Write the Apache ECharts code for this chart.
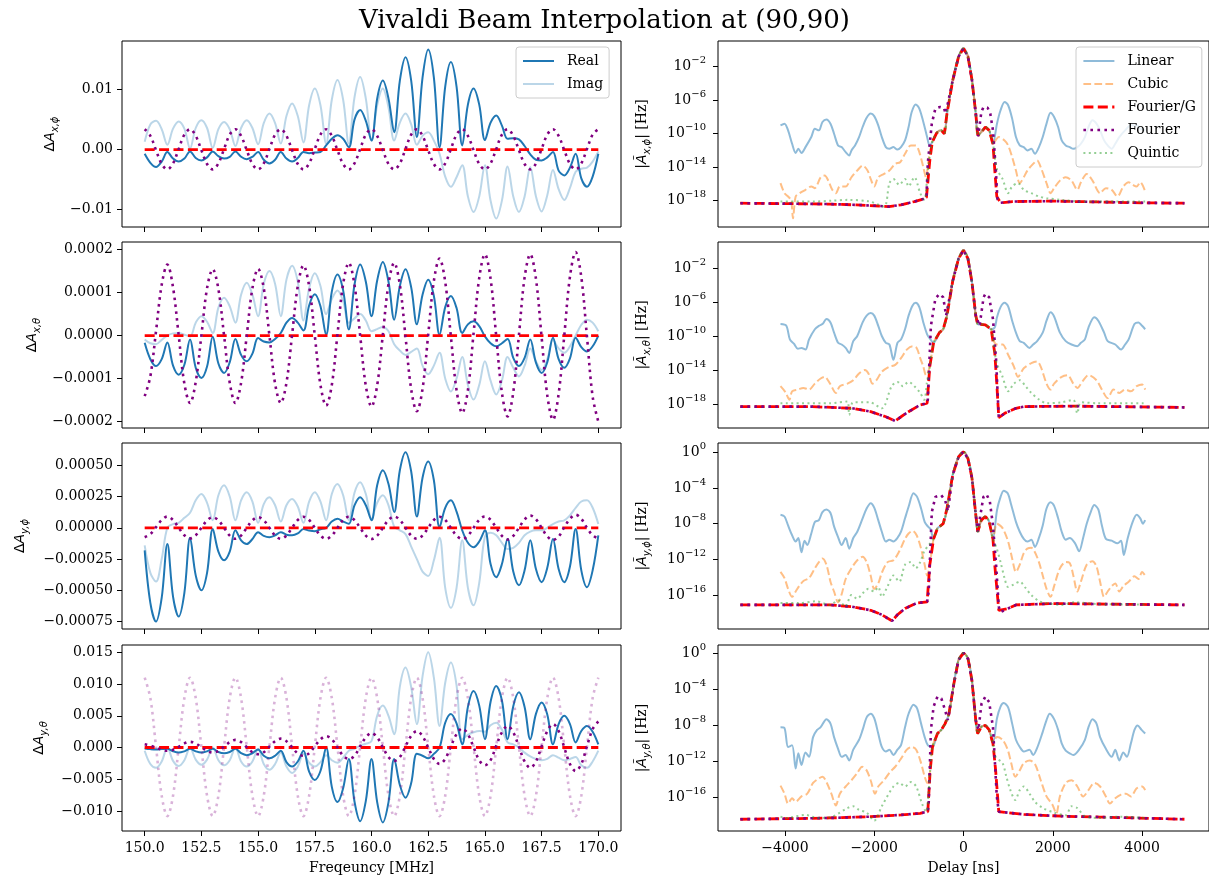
<!DOCTYPE html>
<html>
<head>
<meta charset="utf-8">
<title>Vivaldi Beam Interpolation at (90,90)</title>
<script src="https://cdn.jsdelivr.net/npm/echarts@6/dist/echarts.min.js"></script>
<style>
  html, body { margin: 0; padding: 0; background: #fff; }
  #chart { width: 1209px; height: 882px; }
</style>
</head>
<body>
<div id="chart"></div>
<script>
const SERIF = 'DejaVu Serif';
const MATH = 'DejaVu Sans';

// ---- left column: residuals vs frequency ----
const freqMHz = [
  150, 150.25, 150.5, 150.75, 151, 151.25, 151.5, 151.75, 152, 152.25, 152.5, 152.75,
  153, 153.25, 153.5, 153.75, 154, 154.25, 154.5, 154.75, 155, 155.25, 155.5, 155.75,
  156, 156.25, 156.5, 156.75, 157, 157.25, 157.5, 157.75, 158, 158.25, 158.5, 158.75,
  159, 159.25, 159.5, 159.75, 160, 160.25, 160.5, 160.75, 161, 161.25, 161.5, 161.75,
  162, 162.25, 162.5, 162.75, 163, 163.25, 163.5, 163.75, 164, 164.25, 164.5, 164.75,
  165, 165.25, 165.5, 165.75, 166, 166.25, 166.5, 166.75, 167, 167.25, 167.5, 167.75,
  168, 168.25, 168.5, 168.75, 169, 169.25, 169.5, 169.75, 170
];
const freqTicks = [150, 152.5, 155, 157.5, 160, 162.5, 165, 167.5, 170];

// dA_x,phi  (units of 1e-3)
const realXphi = [-0.7,
  -2.2, -2.9, -2.0, -0.4,  -1.5, -2.0, -1.5, -0.3,  -1.4, -1.8, -1.3, -0.3,  -1.1, -1.5, -1.2, -0.3,
  -1.2, -1.6, -1.2, -0.4,  -1.7, -2.3, -1.7, -0.4,  -1.5, -2.0, -1.4, -0.4,  -0.6, -0.5, -0.4, 0.7,
  1.8, 2.4, 1.8, 0.4,  5.0, 6.6, 4.8, 1.5,  8.5, 11.5, 8.5, 2.9,  11.5, 15.4, 11.5, 2.1,
  12.0, 16.7, 12.0, 0.4,  10.5, 14.6, 10.5, 0.7,  7.5, 10.2, 7.5, 1.6,  4.5, 5.7, 4.0, 1.8,
  1.9, 1.7, 0.6, -0.8,  -1.7, -1.8, -1.3, -0.4,  -3.5, -4.3, -3.0, -0.7,  -4.8, -6.2, -4.5, -0.7];
const imagXphi = [1.3,
  4.2, 4.8, 3.4, 0.8,  3.5, 4.7, 3.5, 0.2,  3.6, 4.9, 3.6, 0.3,  3.4, 4.6, 3.4, 0.6,
  3.6, 4.9, 3.6, 0.9,  4.4, 6.0, 4.4, 1.0,  5.6, 7.7, 5.6, 1.2,  7.4, 10.2, 7.4, 1.0,
  8.3, 11.6, 8.3, 1.0,  8.7, 12.1, 8.5, 1.5,  7.4, 10.2, 7.0, 1.5,  4.5, 6.0, 4.2, 0.8,
  2.3, 2.9, 1.5, -0.7,  -4.5, -6.2, -4.6, -2.6,  -7.8, -10.4, -7.8, -2.6,  -8.5, -11.5, -8.5, -2.8,
  -7.8, -10.4, -7.8, -2.9,  -7.8, -10.3, -7.6, -3.4,  -6.6, -8.4, -6.4, -3.7,  -3.2, -3.0, -2.0, -0.3];
const fourXphi = [3.4,
  2.3, -0.1, -2.4, -3.3,  -2.3, 0.1, 2.5, 3.4,  2.3, -0.1, -2.4, -3.3,  -2.3, 0.1, 2.5, 3.4,
  2.3, -0.1, -2.4, -3.3,  -2.3, 0.1, 2.5, 3.4,  2.3, -0.1, -2.4, -3.3,  -2.3, 0.1, 2.5, 3.4,
  2.3, -0.1, -2.4, -3.3,  -2.3, 0.1, 2.5, 3.4,  2.3, -0.1, -2.4, -3.3,  -2.3, 0.1, 2.5, 3.4,
  2.3, -0.1, -2.4, -3.3,  -2.3, 0.1, 2.5, 3.4,  2.3, -0.1, -2.4, -3.3,  -2.3, 0.1, 2.5, 3.4,
  2.3, -0.1, -2.4, -3.3,  -2.3, 0.1, 2.5, 3.4,  2.3, -0.1, -2.4, -3.3,  -2.3, 0.1, 2.5, 3.4];

// dA_x,theta  (units of 1e-4)
const realXtheta = [-0.17,
  -0.55, -0.71, -0.55, -0.16,  -0.70, -0.91, -0.68, -0.09,  -0.75, -0.99, -0.72, -0.03,  -0.65, -0.87, -0.62, -0.08,
  -0.45, -0.60, -0.42, -0.06,  -0.14, -0.16, -0.08, 0.06,  0.30, 0.41, 0.30, 0.12,  0.70, 0.96, 0.68, 0.02,
  1.02, 1.42, 1.05, 0.14,  1.18, 1.65, 1.25, 0.45,  1.28, 1.71, 1.25, 0.37,  1.15, 1.54, 1.12, 0.26,
  0.95, 1.30, 0.92, 0.02,  0.66, 0.92, 0.64, 0.06,  0.26, 0.33, 0.22, -0.02,  -0.18, -0.25, -0.18, -0.08,
  -0.52, -0.71, -0.52, -0.09,  -0.63, -0.87, -0.62, -0.05,  -0.55, -0.75, -0.53, -0.05,  -0.27, -0.37, -0.25, 0.0];
const imagXtheta = [-0.09,
  -0.18, -0.20, -0.10, 0.00,  0.05, 0.06, 0.02, -0.02,  0.30, 0.45, 0.32, 0.06,  0.65, 0.88, 0.68, 0.30,
  0.95, 1.23, 0.95, 0.45,  1.20, 1.50, 1.20, 0.45,  1.30, 1.62, 1.25, 0.35,  1.10, 1.45, 1.15, 0.50,
  0.85, 1.05, 0.80, 0.30,  0.40, 0.50, 0.35, 0.10,  0.15, 0.20, 0.10, -0.20,  -0.35, -0.45, -0.38, -0.30,
  -0.70, -0.90, -0.70, -0.40,  -1.00, -1.30, -1.00, -0.50,  -1.15, -1.49, -1.15, -0.60,  -1.05, -1.37, -1.05, -0.50,
  -0.75, -0.95, -0.70, -0.30,  -0.60, -0.80, -0.55, -0.10,  -0.30, -0.40, -0.25, 0.00,  0.25, 0.37, 0.30, 0.10];
const fourXtheta = [-1.41,
  -0.95, 0.10, 1.18, 1.65,  1.12, 0.0, -1.12, -1.57,  -1.08, 0.0, 1.10, 1.54,  1.08, 0.0, -1.10, -1.57,
  -1.10, 0.0, 1.10, 1.55,  1.10, 0.0, -1.12, -1.57,  -1.10, 0.02, 1.15, 1.63,  1.15, 0.0, -1.15, -1.63,
  -1.15, 0.03, 1.20, 1.69,  1.18, 0.0, -1.17, -1.65,  -1.16, 0.02, 1.20, 1.69,  1.18, -0.03, -1.25, -1.76,
  -1.24, 0.02, 1.27, 1.79,  1.25, -0.02, -1.27, -1.80,  -1.27, 0.05, 1.34, 1.89,  1.32, -0.02, -1.33, -1.88,
  -1.32, 0.01, 1.35, 1.89,  1.32, -0.04, -1.39, -1.96,  -1.36, 0.0, 1.37, 1.94,  1.36, -0.03, -1.42, -2.00];

// dA_y,phi  (units of 1e-4)
const realYphi = [-1.8,
  -6.0, -7.5, -5.6, -1.3,  -5.5, -7.1, -5.2, -0.8,  -3.8, -5.0, -3.6, -0.1,  -1.9, -2.6, -1.9, -0.2,
  -1.0, -1.3, -0.9, -0.35,  -0.65, -0.75, -0.6, -0.35,  -0.55, -0.6, -0.45, -0.1,  -0.22, -0.27, -0.12, 0.0,
  0.5, 0.72, 0.5, 0.32,  1.8, 2.45, 1.8, 0.6,  3.4, 4.6, 3.5, 1.26,  4.6, 6.05, 4.5, 0.9,
  4.0, 5.3, 3.8, 0.05,  1.6, 2.2, 1.3, -0.2,  -1.2, -1.55, -1.1, -0.2,  -2.9, -3.95, -2.9, -0.9,
  -3.5, -4.6, -3.4, -1.0,  -3.3, -4.35, -3.2, -0.9,  -3.3, -4.35, -3.1, -0.1,  -3.4, -4.75, -3.4, -0.6];
const imagYphi = [-1.4,
  -3.6, -4.3, -2.5, 0.0,  0.3, 0.4, 0.8, 1.2,  2.2, 2.7, 2.0, 0.6,  2.6, 3.4, 2.5, 0.6,
  2.2, 2.85, 2.1, 0.4,  1.9, 2.45, 1.8, 0.5,  1.8, 2.3, 1.7, 0.4,  2.1, 2.85, 2.1, 0.6,
  2.7, 3.5, 2.6, 0.6,  2.8, 3.65, 2.7, 0.7,  2.0, 2.6, 1.8, 0.1,  -0.2, -0.5, -1.5, -2.5,
  -3.5, -3.85, -2.6, -0.8,  -4.8, -6.4, -4.8, -1.0,  -4.8, -6.2, -4.4, -0.7,  -0.4, -0.6, -1.2, -1.7,
  -1.6, -1.2, -0.6, -0.3,  -0.2, -0.2, 0.0, 0.3,  0.5, 0.6, 1.0, 1.6,  2.1, 2.2, 1.6, 0.3];
const fourYphi = [-0.75,
  -0.5, 0.05, 0.62, 0.9,  0.62, 0.0, -0.6, -0.85,  -0.6, 0.0, 0.6, 0.85,  0.6, 0.0, -0.62, -0.88,
  -0.62, 0.0, 0.6, 0.85,  0.6, 0.0, -0.62, -0.88,  -0.62, 0.0, 0.62, 0.88,  0.62, 0.0, -0.62, -0.88,
  -0.62, 0.0, 0.62, 0.88,  0.62, 0.0, -0.63, -0.9,  -0.63, 0.0, 0.63, 0.9,  0.63, 0.0, -0.62, -0.88,
  -0.62, 0.0, 0.62, 0.88,  0.62, 0.0, -0.63, -0.9,  -0.63, 0.0, 0.64, 0.91,  0.64, 0.0, -0.64, -0.93,
  -0.65, 0.0, 0.66, 0.98,  0.68, 0.0, -0.68, -0.98,  -0.70, 0.05, 0.72, 1.05,  0.72, 0.0, -0.60, -0.85];

// dA_y,theta  (units of 1e-3)
const realYtheta = [-0.15,
  -0.25, -0.3, -0.25, -0.2,  -0.6, -0.8, -0.6, -0.2,  -0.6, -0.8, -0.6, -0.2,  -0.7, -0.9, -0.7, -0.2,
  -0.9, -1.2, -0.9, -0.3,  -1.3, -1.7, -1.3, -0.5,  -2.3, -3.0, -2.2, -0.5,  -3.8, -5.1, -3.7, 0.0,
  -6.2, -8.6, -6.4, -1.8,  -8.5, -11.6, -8.4, -1.8,  -8.6, -11.8, -8.6, -1.8,  -5.9, -7.9, -5.6, -1.0,
  -1.3, -1.7, -1.0, 0.0,  3.9, 5.3, 3.8, 0.5,  6.4, 8.9, 6.6, 1.3,  7.2, 9.7, 7.4, 1.3,
  6.5, 8.7, 6.4, 1.3,  5.3, 7.1, 5.2, 0.5,  3.7, 5.0, 3.7, 0.8,  2.6, 3.4, 2.5, 0.5];
const imagYtheta = [-0.5,
  -2.6, -3.2, -2.2, 0.0,  -2.1, -2.9, -2.0, 0.0,  -1.9, -2.7, -1.9, 0.0,  -2.0, -2.8, -2.0, 0.0,
  -2.2, -3.0, -2.2, -0.2,  -2.6, -3.5, -2.6, -0.8,  -3.0, -4.0, -3.0, -1.0,  -2.4, -3.0, -2.3, -1.2,
  -2.0, -2.4, -1.6, -0.5,  -0.2, 0.3, 0.6, 1.0,  5.0, 6.6, 5.0, 2.1,  9.6, 12.6, 9.5, 3.7,
  11.2, 15.0, 11.0, 3.4,  10.2, 13.4, 9.8, 1.3,  2.0, 2.4, 2.6, 2.5,  3.5, 3.9, 2.8, 0.8,
  0.5, 0.0, -0.8, -1.4,  -1.8, -2.0, -1.8, -1.2,  -1.6, -2.0, -1.8, -1.5,  -2.8, -3.2, -2.2, -0.5];
const fourYtheta = [0.5,
  0.3, 0.0, -0.35, -0.5,  -0.35, 0.1, 0.65, 0.9,  0.65, 0.05, -0.55, -0.8,  -0.55, 0.15, 0.85, 1.2,
  0.85, 0.05, -0.75, -1.05,  -0.75, 0.15, 1.0, 1.4,  1.0, 0.05, -0.95, -1.3,  -0.9, 0.2, 1.3, 1.8,
  1.3, 0.0, -1.3, -1.8,  -1.3, 0.2, 1.6, 2.3,  1.6, 0.05, -1.5, -2.1,  -1.5, 0.2, 1.85, 2.6,
  1.8, 0.0, -1.8, -2.6,  -1.8, 0.2, 2.1, 3.0,  2.1, 0.05, -2.0, -2.8,  -2.0, 0.3, 2.4, 3.4,
  2.4, 0.1, -2.2, -3.2,  -2.2, 0.2, 2.6, 3.7,  2.6, 0.0, -2.6, -3.7,  -2.6, 0.2, 2.9, 4.1];
const fourImYtheta = [11.0,
  7.8, 0.1, -7.6, -10.8,  -7.6, 0.1, 7.8, 11.0,  7.8, 0.1, -7.6, -10.8,  -7.6, 0.1, 7.8, 11.0,
  7.8, 0.1, -7.6, -10.8,  -7.6, 0.1, 7.8, 11.0,  7.8, 0.1, -7.6, -10.8,  -7.6, 0.1, 7.8, 11.0,
  7.8, 0.1, -7.6, -10.8,  -7.6, 0.1, 7.8, 11.0,  7.8, 0.1, -7.6, -10.8,  -7.6, 0.1, 7.8, 11.0,
  7.8, 0.1, -7.6, -10.8,  -7.6, 0.1, 7.8, 11.0,  7.8, 0.1, -7.6, -10.8,  -7.6, 0.1, 7.8, 11.0,
  7.8, 0.1, -7.6, -10.8,  -7.6, 0.1, 7.8, 11.0,  7.8, 0.1, -7.6, -10.8,  -7.6, 0.1, 7.8, 11.0];
// flat Fourier/G residual
const fgFreq = [[150, 0], [170, 0]];

// ---- right column: delay spectra, [delay ns, log10 |A|] ----
const delayTicks = [-4000, -2000, 0, 2000, 4000];

const mainXphi = [[-700,-11.0],[-600,-9.9],[-500,-9.6],[-430,-10.0],[-370,-7.6],[-240,-3.6],[-110,-0.8],[0,0.19],[100,-0.8],[190,-3.6],[275,-7.6],[320,-10.2],[400,-9.8],[490,-9.2],[575,-9.6],[660,-11.2]];
const linXphi = [[-4100,-9.0],[-4010,-8.8],[-3930,-9.6],[-3840,-11.2],[-3760,-12.3],[-3700,-11.8],[-3630,-12.3],[-3540,-11.6],[-3410,-10.4],[-3330,-9.4],[-3240,-9.6],[-3160,-8.6],[-3070,-8.3],[-2980,-8.8],[-2900,-10.0],[-2810,-11.4],[-2730,-11.6],[-2640,-12.2],[-2560,-12.6],[-2510,-12.0],[-2430,-11.4],[-2340,-10.4],[-2260,-9.2],[-2170,-8.1],[-2080,-7.6],[-2000,-7.9],[-1910,-9.0],[-1830,-10.4],[-1740,-11.6],[-1660,-11.8],[-1570,-11.6],[-1480,-11.9],[-1400,-11.6],[-1310,-10.8],[-1230,-9.2],[-1160,-7.4],[-1070,-6.5],[-990,-7.0],[-900,-8.6],[-815,-10.4],[-760,-11.4],
  ...mainXphi,
  [750,-8.8],[830,-7.2],[920,-6.2],[1000,-6.6],[1090,-8.2],[1175,-10.4],[1260,-11.4],[1350,-11.6],[1430,-12.0],[1520,-11.8],[1600,-12.4],[1690,-11.6],[1775,-10.4],[1860,-8.8],[1950,-7.5],[2030,-8.0],[2120,-9.2],[2200,-10.8],[2290,-11.4],[2380,-11.6],[2460,-11.8],[2550,-11.6],[2630,-11.2],[2720,-10.4],[2800,-9.2],[2890,-8.4],[2980,-8.8],[3060,-9.6],[3150,-10.8],[3230,-11.4],[3320,-11.8],[3400,-11.2],[3490,-10.4],[3620,-9.6],[3750,-9.0],[3880,-9.0],[3960,-9.4],[4070,-9.6]];
const cubXphi = [[-4100,-15.9],[-4010,-17.1],[-3930,-17.5],[-3860,-18.0],[-3820,-20.1],[-3760,-17.5],[-3670,-17.1],[-3540,-16.7],[-3410,-16.3],[-3330,-16.5],[-3200,-15.2],[-3110,-15.0],[-3030,-15.6],[-2940,-16.7],[-2860,-17.1],[-2770,-16.3],[-2640,-16.3],[-2510,-15.2],[-2380,-14.4],[-2260,-13.8],[-2150,-14.4],[-2080,-15.4],[-2000,-16.3],[-1910,-15.2],[-1780,-14.8],[-1660,-14.4],[-1530,-13.6],[-1420,-13.4],[-1310,-12.4],[-1180,-11.4],[-1070,-11.4],[-990,-12.2],[-900,-14.0],[-840,-15.2],[-780,-13.0],
  ...mainXphi,
  [790,-10.4],[920,-10.8],[1000,-11.4],[1090,-12.8],[1175,-14.4],[1260,-15.9],[1350,-15.2],[1430,-14.4],[1560,-13.6],[1650,-13.2],[1730,-14.0],[1860,-15.9],[1950,-17.1],[2030,-16.5],[2160,-15.6],[2290,-15.2],[2420,-15.6],[2550,-16.7],[2630,-15.8],[2760,-14.8],[2890,-15.6],[3060,-17.1],[3190,-16.5],[3320,-16.7],[3450,-17.5],[3580,-16.3],[3700,-15.8],[3790,-16.1],[3880,-16.3],[3960,-15.8],[4070,-16.9]];
const quiXphi = [[-4100,-18.1],[-3370,-18.1],[-2940,-18.0],[-2600,-17.9],[-2100,-18.1],[-1780,-18.7],[-1660,-15.9],[-1570,-15.4],[-1440,-16.1],[-1310,-15.4],[-1230,-16.3],[-1100,-15.2],[-970,-17.1],[-880,-17.9],[-800,-14.5],
  ...mainXphi,
  [746,-14.2],[875,-15.4],[1000,-17.1],[1090,-16.3],[1220,-15.9],[1350,-16.7],[1520,-17.1],[1690,-17.5],[1860,-17.7],[2200,-17.9],[2630,-18.1],[3060,-18.1],[4070,-18.1]];
const fgXphi = [[-5000,-18.3],[-4000,-18.35],[-3000,-18.4],[-2400,-18.5],[-2000,-18.6],[-1670,-18.7],[-1400,-18.5],[-1100,-18.1],[-900,-17.8],[-830,-17.6],[-755,-13.2],
  ...mainXphi,
  [700,-14.3],[746,-17.5],[830,-18.25],[1100,-18.1],[2000,-18.05],[3000,-18.15],[4000,-18.25],[4950,-18.3]];
const fouXphi = [[-5000,-18.3],[-4000,-18.35],[-3000,-18.4],[-2400,-18.5],[-2000,-18.6],[-1670,-18.7],[-1400,-18.5],[-1100,-18.1],[-900,-17.8],[-830,-17.6],[-800,-13.5],[-710,-8.8],[-630,-7.0],[-520,-6.8],[-440,-6.9],[-400,-7.6],[-370,-7.6],[-240,-3.6],[-110,-0.8],[0,0.19],[100,-0.8],[190,-3.6],[275,-7.6],[330,-10.3],[400,-7.4],[450,-6.8],[540,-6.9],[600,-7.6],[660,-9.6],[720,-14.0],[760,-17.8],[830,-18.25],[1100,-18.1],[2000,-18.05],[3000,-18.15],[4000,-18.25],[4950,-18.3]];

const mainXtheta = [[-670,-10.8],[-540,-9.6],[-455,-9.2],[-370,-7.6],[-240,-3.5],[-110,-0.9],[0,0.1],[100,-0.9],[190,-3.7],[275,-7.6],[320,-8.6],[490,-8.7],[620,-9.2]];
const linXtheta = [[-4100,-8.6],[-3970,-8.8],[-3890,-10.4],[-3800,-10.9],[-3710,-11.5],[-3630,-11.4],[-3540,-11.6],[-3460,-10.4],[-3330,-9.2],[-3240,-8.8],[-3160,-8.6],[-3070,-8.0],[-2980,-8.4],[-2900,-9.6],[-2810,-10.8],[-2730,-11.0],[-2640,-11.4],[-2560,-12.0],[-2470,-10.6],[-2380,-10.0],[-2260,-8.4],[-2170,-7.6],[-2080,-7.3],[-2000,-7.6],[-1910,-8.8],[-1830,-10.0],[-1740,-10.8],[-1660,-11.0],[-1570,-12.8],[-1480,-10.8],[-1400,-10.4],[-1310,-9.2],[-1230,-7.6],[-1140,-6.4],[-1070,-6.1],[-990,-6.6],[-900,-8.4],[-815,-9.8],[-740,-10.4],
  ...mainXtheta,
  [700,-9.0],[750,-7.8],[830,-6.6],[920,-6.1],[1000,-6.5],[1090,-8.2],[1175,-9.6],[1260,-10.6],[1350,-10.8],[1475,-11.4],[1560,-11.0],[1650,-10.6],[1775,-9.6],[1860,-8.2],[1950,-7.2],[2030,-7.7],[2160,-9.6],[2290,-10.6],[2420,-11.0],[2550,-11.2],[2630,-10.8],[2720,-10.4],[2800,-9.0],[2930,-7.8],[3020,-8.2],[3150,-9.6],[3230,-10.6],[3400,-11.0],[3530,-11.6],[3620,-11.0],[3700,-10.4],[3830,-8.6],[3920,-8.4],[4000,-8.8],[4070,-9.2]];
const cubXtheta = [[-4100,-15.9],[-3990,-16.6],[-3900,-17.5],[-3840,-16.5],[-3710,-16.3],[-3590,-16.1],[-3460,-16.3],[-3330,-15.6],[-3200,-15.0],[-3110,-14.8],[-2990,-15.6],[-2860,-16.7],[-2770,-15.9],[-2600,-15.6],[-2470,-15.2],[-2340,-14.4],[-2210,-14.0],[-2130,-14.4],[-2040,-15.6],[-1950,-15.2],[-1830,-14.2],[-1660,-13.6],[-1530,-13.4],[-1400,-12.6],[-1270,-11.6],[-1140,-11.2],[-1050,-11.4],[-970,-12.6],[-900,-13.6],[-840,-14.6],[-755,-13.6],
  ...mainXtheta,
  [680,-10.6],[750,-11.0],[875,-11.0],[1000,-12.2],[1130,-13.6],[1220,-14.8],[1350,-13.8],[1520,-13.2],[1650,-13.0],[1730,-13.6],[1860,-15.6],[1950,-16.3],[2030,-15.6],[2200,-14.8],[2330,-14.6],[2460,-15.6],[2550,-16.1],[2670,-15.3],[2800,-14.6],[2980,-15.2],[3100,-16.3],[3230,-17.3],[3360,-16.3],[3490,-16.7],[3620,-16.3],[3750,-16.5],[3880,-15.9],[4000,-15.7],[4070,-16.3]];
const quiXtheta = [[-4100,-17.9],[-3000,-17.9],[-2600,-17.7],[-2560,-19.3],[-2470,-17.8],[-2100,-17.8],[-1830,-18.5],[-1610,-15.9],[-1480,-15.4],[-1360,-15.9],[-1230,-15.4],[-1100,-15.9],[-970,-16.7],[-880,-17.5],[-820,-15.5],[-755,-13.6],
  ...mainXtheta,
  [700,-12.0],[746,-13.2],[875,-14.8],[1000,-16.5],[1130,-15.6],[1260,-15.2],[1390,-15.9],[1520,-16.7],[1700,-17.5],[1860,-17.9],[2200,-17.8],[2460,-17.5],[2550,-19.1],[2630,-17.8],[3000,-17.9],[4070,-17.9]];
const fgXtheta = [[-5000,-18.3],[-3400,-18.3],[-2500,-18.5],[-2080,-18.9],[-1740,-19.5],[-1530,-20.0],[-1400,-19.5],[-1230,-18.9],[-970,-18.1],[-815,-17.9],[-755,-13.6],
  ...mainXtheta,
  [700,-12.0],[746,-15.6],[790,-19.6],[920,-19.1],[1175,-18.5],[1350,-18.3],[2500,-18.25],[4950,-18.4]];
const fouXtheta = [[-5000,-18.3],[-3400,-18.3],[-2500,-18.5],[-2080,-18.9],[-1740,-19.5],[-1530,-20.0],[-1400,-19.5],[-1230,-18.9],[-970,-18.1],[-815,-17.9],[-800,-17.5],[-730,-8.8],[-630,-5.6],[-540,-5.05],[-455,-5.45],[-390,-7.6],[-370,-7.6],[-240,-3.5],[-110,-0.9],[0,0.1],[100,-0.9],[190,-3.7],[275,-7.6],[360,-8.8],[450,-5.45],[490,-5.05],[575,-5.45],[660,-8.0],[730,-12.8],[790,-19.6],[920,-19.1],[1175,-18.5],[1350,-18.3],[2500,-18.25],[4950,-18.4]];

const mainYphi = [[-670,-9.7],[-580,-8.5],[-455,-8.0],[-370,-6.3],[-240,-2.5],[-110,-0.5],[0,0.07],[100,-0.7],[190,-2.9],[275,-7.0],[320,-8.9],[400,-7.6],[490,-7.2],[575,-7.8],[660,-9.7]];
const linYphi = [[-4100,-7.0],[-4010,-7.2],[-3930,-8.2],[-3840,-9.3],[-3760,-10.0],[-3700,-9.6],[-3630,-11.2],[-3560,-9.9],[-3500,-10.4],[-3410,-9.1],[-3330,-7.8],[-3240,-7.6],[-3160,-6.7],[-3070,-6.4],[-2980,-6.8],[-2900,-8.3],[-2810,-9.5],[-2730,-10.4],[-2640,-9.6],[-2560,-10.8],[-2470,-9.6],[-2380,-8.9],[-2260,-7.4],[-2170,-6.3],[-2080,-5.7],[-2000,-6.2],[-1910,-7.6],[-1830,-8.9],[-1740,-10.0],[-1660,-9.8],[-1570,-10.0],[-1480,-9.6],[-1400,-8.9],[-1310,-7.4],[-1230,-6.1],[-1120,-4.6],[-1040,-5.0],[-950,-6.3],[-870,-7.8],[-800,-8.3],[-740,-8.6],
  ...mainYphi,
  [750,-6.5],[830,-5.0],[900,-4.3],[990,-4.6],[1070,-5.9],[1175,-7.8],[1260,-8.9],[1350,-9.7],[1430,-10.0],[1520,-9.8],[1600,-10.6],[1690,-9.6],[1775,-8.2],[1860,-6.3],[1950,-5.6],[2030,-6.0],[2120,-7.4],[2200,-8.9],[2290,-9.8],[2380,-9.6],[2500,-10.2],[2590,-11.1],[2680,-9.6],[2760,-8.0],[2850,-6.7],[2930,-5.9],[3020,-6.4],[3100,-8.2],[3190,-9.7],[3320,-9.9],[3450,-10.2],[3530,-9.9],[3590,-11.5],[3680,-9.6],[3790,-7.8],[3880,-7.0],[3960,-7.4],[4020,-8.0],[4070,-7.6]];
const cubYphi = [[-4100,-13.4],[-4010,-14.1],[-3930,-15.3],[-3840,-16.2],[-3760,-15.6],[-3670,-14.9],[-3580,-14.4],[-3460,-14.1],[-3330,-13.0],[-3240,-12.3],[-3160,-11.9],[-3070,-12.6],[-2980,-14.5],[-2900,-15.6],[-2810,-16.8],[-2730,-15.9],[-2640,-14.2],[-2510,-13.0],[-2380,-12.1],[-2260,-11.7],[-2170,-12.3],[-2080,-13.8],[-2000,-15.3],[-1910,-14.7],[-1830,-13.5],[-1700,-12.3],[-1570,-12.1],[-1440,-11.1],[-1310,-9.7],[-1230,-9.1],[-1140,-8.8],[-1050,-9.3],[-950,-10.8],[-870,-12.6],[-815,-13.8],[-755,-12.6],
  ...mainYphi,
  [750,-8.0],[875,-8.5],[1000,-10.0],[1090,-11.9],[1175,-13.4],[1260,-12.6],[1350,-11.3],[1430,-10.8],[1520,-10.7],[1600,-11.2],[1690,-12.3],[1775,-13.8],[1860,-15.3],[1950,-16.2],[2030,-15.0],[2160,-13.0],[2290,-12.3],[2380,-12.4],[2460,-13.8],[2550,-15.6],[2630,-14.5],[2760,-12.6],[2890,-12.2],[2980,-12.8],[3060,-14.5],[3150,-16.2],[3230,-15.6],[3320,-15.0],[3400,-14.7],[3490,-15.6],[3580,-15.0],[3700,-14.5],[3830,-13.9],[3920,-14.2],[4000,-13.4],[4070,-13.8]];
const quiYphi = [[-4100,-16.9],[-3700,-16.9],[-3300,-16.7],[-3000,-17.1],[-2800,-16.6],[-2650,-17.3],[-2510,-16.0],[-2380,-16.4],[-2260,-15.8],[-2130,-15.3],[-2000,-15.6],[-1910,-15.1],[-1830,-16.2],[-1700,-15.0],[-1570,-13.8],[-1440,-14.5],[-1310,-12.6],[-1180,-12.3],[-1070,-13.0],[-970,-12.3],[-880,-11.1],[-780,-10.4],
  ...mainYphi,
  [746,-10.8],[830,-12.3],[920,-14.1],[1000,-15.1],[1130,-14.8],[1260,-14.5],[1390,-15.2],[1520,-16.0],[1700,-16.7],[1860,-16.9],[2200,-17.1],[2500,-16.8],[3000,-17.0],[4070,-17.05]];
const fgYphi = [[-5000,-17.1],[-3000,-17.1],[-2500,-17.3],[-2080,-17.7],[-1830,-18.2],[-1600,-18.9],[-1480,-18.2],[-1310,-17.5],[-1050,-16.9],[-815,-16.75],[-755,-12.6],
  ...mainYphi,
  [700,-12.6],[790,-17.7],[830,-17.9],[1000,-17.5],[1175,-17.1],[2000,-16.95],[3000,-17.0],[4950,-17.1]];
const fouYphi = [[-5000,-17.1],[-3000,-17.1],[-2500,-17.3],[-2080,-17.7],[-1830,-18.2],[-1600,-18.9],[-1480,-18.2],[-1310,-17.5],[-1050,-16.9],[-815,-16.75],[-780,-15.6],[-710,-6.7],[-630,-5.0],[-500,-4.8],[-410,-5.4],[-350,-6.6],[-240,-2.5],[-110,-0.5],[0,0.07],[100,-0.7],[190,-2.9],[275,-7.0],[320,-8.9],[380,-7.0],[446,-5.0],[515,-4.7],[590,-5.5],[660,-8.2],[730,-12.6],[790,-17.3],[830,-17.9],[1000,-17.5],[1175,-17.1],[2000,-16.95],[3000,-17.0],[4950,-17.1]];

const mainYtheta = [[-695,-10.4],[-583,-8.9],[-497,-8.5],[-412,-7.8],[-326,-6.7],[-214,-3.3],[-111,-0.7],[0,0.07],[103,-0.6],[189,-3.0],[274,-7.4],[317,-8.9],[403,-8.15],[489,-8.0],[575,-8.5],[660,-10.0]];
const linYtheta = [[-4100,-8.2],[-4010,-8.3],[-3930,-10.4],[-3840,-10.2],[-3760,-12.8],[-3700,-11.1],[-3630,-12.4],[-3540,-11.0],[-3460,-11.5],[-3370,-9.3],[-3280,-8.5],[-3200,-8.2],[-3070,-7.3],[-2980,-7.8],[-2900,-9.3],[-2810,-10.6],[-2730,-11.5],[-2640,-11.3],[-2560,-11.9],[-2470,-10.7],[-2340,-9.6],[-2260,-8.5],[-2170,-7.1],[-2080,-6.7],[-2000,-7.2],[-1910,-8.9],[-1830,-10.4],[-1740,-10.9],[-1660,-10.7],[-1570,-11.3],[-1480,-10.7],[-1400,-10.2],[-1310,-8.2],[-1230,-6.7],[-1120,-5.7],[-1040,-6.1],[-950,-7.8],[-870,-9.3],[-800,-10.2],
  ...mainYtheta,
  [750,-7.2],[830,-5.9],[900,-5.5],[1000,-6.0],[1090,-7.8],[1175,-9.6],[1260,-10.4],[1350,-10.9],[1480,-10.7],[1560,-11.3],[1650,-10.5],[1770,-8.8],[1860,-7.4],[1930,-6.7],[2030,-7.3],[2120,-8.5],[2200,-10.0],[2290,-10.8],[2380,-11.1],[2460,-11.3],[2590,-10.7],[2720,-9.6],[2800,-8.2],[2890,-7.3],[2980,-7.8],[3060,-9.3],[3190,-10.6],[3320,-11.5],[3400,-10.7],[3490,-11.9],[3580,-11.0],[3660,-11.5],[3750,-10.0],[3830,-8.5],[3900,-8.0],[3990,-8.5],[4070,-8.9]];
const cubYtheta = [[-4100,-14.7],[-4010,-15.6],[-3930,-16.7],[-3840,-16.1],[-3760,-16.5],[-3630,-15.9],[-3500,-15.6],[-3370,-14.4],[-3240,-13.9],[-3160,-13.7],[-3070,-14.3],[-2960,-15.6],[-2860,-16.9],[-2770,-15.6],[-2640,-14.8],[-2510,-14.1],[-2380,-13.3],[-2270,-12.6],[-2170,-13.0],[-2080,-14.1],[-1980,-15.6],[-1910,-14.8],[-1780,-14.1],[-1650,-13.2],[-1530,-12.6],[-1400,-11.7],[-1270,-10.7],[-1160,-10.4],[-1060,-10.7],[-950,-12.2],[-870,-13.7],[-815,-14.4],[-746,-13.0],
  ...mainYtheta,
  [750,-9.3],[875,-9.6],[990,-10.7],[1070,-12.2],[1160,-13.7],[1260,-13.0],[1350,-12.2],[1480,-11.9],[1600,-12.3],[1730,-14.1],[1860,-15.9],[1990,-16.8],[2080,-17.8],[2160,-15.9],[2290,-14.4],[2420,-14.1],[2550,-14.8],[2680,-15.9],[2800,-15.2],[2930,-14.4],[3060,-14.8],[3190,-15.9],[3280,-16.7],[3400,-16.1],[3530,-15.7],[3640,-15.6],[3750,-15.9],[3880,-15.0],[4000,-14.8],[4070,-15.2]];
const quiYtheta = [[-4100,-18.15],[-3970,-18.3],[-3540,-17.96],[-3280,-18.3],[-2940,-18.15],[-2600,-17.2],[-2470,-17.0],[-2340,-17.4],[-2170,-17.7],[-2000,-18.6],[-1830,-17.0],[-1570,-14.8],[-1440,-14.4],[-1310,-14.8],[-1180,-14.3],[-1060,-14.8],[-930,-16.7],[-840,-17.6],[-746,-13.0],
  ...mainYtheta,
  [720,-11.5],[875,-12.2],[960,-13.7],[1050,-15.2],[1160,-16.3],[1260,-15.2],[1350,-14.8],[1480,-15.6],[1600,-16.5],[1780,-17.2],[2030,-17.7],[2290,-18.0],[2420,-17.0],[2550,-17.2],[2720,-18.1],[3060,-18.3],[3490,-18.15],[4070,-18.3]];
const fgYtheta = [[-5000,-18.44],[-3800,-18.37],[-3000,-18.3],[-2080,-18.15],[-1400,-17.96],[-970,-17.78],[-800,-17.6],[-746,-13.0],
  ...mainYtheta,
  [720,-13.0],[790,-17.6],[830,-17.7],[1350,-17.9],[2200,-18.1],[3060,-18.2],[4950,-18.44]];
const fouYtheta = [[-5000,-18.44],[-3800,-18.37],[-3000,-18.3],[-2080,-18.15],[-1400,-17.96],[-970,-17.78],[-800,-17.6],[-780,-16.7],[-730,-8.5],[-670,-5.9],[-583,-4.8],[-497,-5.0],[-412,-6.3],[-352,-7.4],[-326,-6.7],[-214,-3.3],[-111,-0.7],[0,0.07],[103,-0.6],[189,-3.0],[274,-7.4],[334,-8.5],[403,-5.6],[489,-4.8],[575,-5.4],[660,-8.2],[746,-15.9],[790,-17.6],[830,-17.7],[1350,-17.9],[2200,-18.1],[3060,-18.2],[4950,-18.44]];

// ---- layout / styles ----
const rowTop = [41, 242, 443, 645];
const rowH = 186;
const colLeft = [122, 718];
const colW = 499;

const C0 = '#1f77b4';
const IMAG = 'rgba(31,119,180,0.3)';
const LIN = 'rgba(31,119,180,0.5)';
const CUB = 'rgba(255,127,14,0.5)';
const QUI = 'rgba(44,160,44,0.5)';
const RED = '#ff0000';
const PURPLE = '#800080';
const PURPLE_FAINT = 'rgba(128,0,128,0.3)';

const minus = s => String(s).replace('-', '\u2212');

const nameRich = {
  g: { fontFamily: MATH, fontSize: 14, lineHeight: 20, color: '#000' },
  i: { fontFamily: MATH, fontStyle: 'italic', fontSize: 14, lineHeight: 20, color: '#000' },
  s: { fontFamily: MATH, fontStyle: 'italic', fontSize: 10, lineHeight: 12, verticalAlign: 'bottom', color: '#000' },
  r: { fontFamily: SERIF, fontSize: 14, lineHeight: 20, color: '#000' }
};
const powRich = {
  b: { fontFamily: SERIF, fontSize: 14, lineHeight: 22, color: '#000' },
  e: { fontFamily: SERIF, fontSize: 10, lineHeight: 12, verticalAlign: 'top', color: '#000' }
};

const leftPanels = [
  { sub: 'x,\u03d5', real: realXphi, imag: imagXphi, four: fourXphi, unit: 1e-3,
    min: -0.0129, max: 0.0181, ticks: [-0.01, 0, 0.01], dec: 2, gap: 62 },
  { sub: 'x,\u03b8', real: realXtheta, imag: imagXtheta, four: fourXtheta, unit: 1e-4,
    min: -0.000215, max: 0.0002175, ticks: [-0.0002, -0.0001, 0, 0.0001, 0.0002], dec: 4, gap: 80 },
  { sub: 'y,\u03d5', real: realYphi, imag: imagYphi, four: fourYphi, unit: 1e-4,
    min: -0.000809, max: 0.000678, ticks: [-0.00075, -0.0005, -0.00025, 0, 0.00025, 0.0005], dec: 5, gap: 92 },
  { sub: 'y,\u03b8', real: realYtheta, imag: imagYtheta, four: fourYtheta, fourIm: fourImYtheta, unit: 1e-3,
    min: -0.01315, max: 0.01615, ticks: [-0.01, -0.005, 0, 0.005, 0.01, 0.015], dec: 3, gap: 73 }
];
const rightPanels = [
  { sub: 'x,\u03d5', lin: linXphi, cub: cubXphi, fg: fgXphi, fou: fouXphi, qui: quiXphi,
    min: -21.14, max: 1.07, ticks: [-18, -14, -10, -6, -2] },
  { sub: 'x,\u03b8', lin: linXtheta, cub: cubXtheta, fg: fgXtheta, fou: fouXtheta, qui: quiXtheta,
    min: -20.82, max: 1.06, ticks: [-18, -14, -10, -6, -2] },
  { sub: 'y,\u03d5', lin: linYphi, cub: cubYphi, fg: fgYphi, fou: fouYphi, qui: quiYphi,
    min: -19.8, max: 1.04, ticks: [-16, -12, -8, -4, 0] },
  { sub: 'y,\u03b8', lin: linYtheta, cub: cubYtheta, fg: fgYtheta, fou: fouYtheta, qui: quiYtheta,
    min: -19.75, max: 0.95, ticks: [-16, -12, -8, -4, 0] }
];

const grid = [], xAxis = [], yAxis = [], series = [];
const tick = ticks => ({ show: true, length: 5, customValues: ticks, lineStyle: { color: '#000', width: 1 } });
const labelFont = { color: '#000', fontFamily: SERIF, fontSize: 14 };

function addLine(name, gi, data, color, width, dash, smooth) {
  series.push({
    name: name, type: 'line', xAxisIndex: gi, yAxisIndex: gi, data: data,
    symbol: 'none', showSymbol: false, smooth: smooth || false, silent: true,
    lineStyle: { color: color, width: width, type: dash || 'solid', cap: 'butt' },
    itemStyle: { color: color }
  });
}

function addFrame(gi, left, top, xMin, xMax, xTicks, xFmt, showX, xName) {
  grid.push({ left: left, top: top, width: colW, height: rowH, show: true,
    borderColor: '#000', borderWidth: 1, backgroundColor: '#fff' });
  xAxis.push({
    type: 'value', gridIndex: gi, min: xMin, max: xMax,
    axisLine: { show: false, onZero: false }, splitLine: { show: false },
    axisTick: tick(xTicks),
    axisLabel: Object.assign({ show: showX, customValues: xTicks, formatter: xFmt, margin: 10 }, labelFont),
    name: xName || '', nameLocation: 'middle', nameGap: 30,
    nameTextStyle: { fontFamily: SERIF, fontSize: 14, color: '#000' }
  });
}

leftPanels.forEach((p, r) => {
  const gi = grid.length;
  addFrame(gi, colLeft[0], rowTop[r], 149, 171, freqTicks, v => v.toFixed(1), r === 3,
    r === 3 ? 'Freqeuncy [MHz]' : '');
  yAxis.push({
    type: 'value', gridIndex: gi, min: p.min, max: p.max,
    axisLine: { show: false, onZero: false }, splitLine: { show: false },
    axisTick: tick(p.ticks),
    axisLabel: Object.assign({ customValues: p.ticks, margin: 9, formatter: v => minus(v.toFixed(p.dec)) }, labelFont),
    name: '{g|\u0394}{i|A}{s|' + p.sub + '}', nameLocation: 'middle', nameRotate: 90, nameGap: p.gap,
    nameTextStyle: { rich: nameRich }
  });
  const toXY = vals => freqMHz.map((f, i) => [f, vals[i] * p.unit]);
  addLine('Real', gi, toXY(p.real), C0, 2, 'solid', 0.35);
  addLine('Imag', gi, toXY(p.imag), IMAG, 2, 'solid', 0.35);
  if (p.fourIm) addLine('Fourier imag', gi, toXY(p.fourIm), PURPLE_FAINT, 2.6, [2.6, 4.4], 0.35);
  addLine('Fourier/G resid', gi, fgFreq, RED, 2.8, [10, 4.4]);
  addLine('Fourier resid', gi, toXY(p.four), PURPLE, 2.6, [2.6, 4.4], 0.35);
});

rightPanels.forEach((p, r) => {
  const gi = grid.length;
  addFrame(gi, colLeft[1], rowTop[r], -5500, 5500, delayTicks, v => minus(v), r === 3,
    r === 3 ? 'Delay [ns]' : '');
  yAxis.push({
    type: 'value', gridIndex: gi, min: p.min, max: p.max,
    axisLine: { show: false, onZero: false }, splitLine: { show: false },
    axisTick: tick(p.ticks),
    axisLabel: { customValues: p.ticks, margin: 12, formatter: v => '{b|10}{e|' + minus(v) + '}', rich: powRich },
    name: '{g||}{i|\u00c3}{s|' + p.sub + '}{g||}{r| [Hz]}', nameLocation: 'middle', nameRotate: 90, nameGap: 66,
    nameTextStyle: { rich: nameRich }
  });
  addLine('Linear', gi, p.lin, LIN, 2, 'solid', 0.3);
  addLine('Cubic', gi, p.cub, CUB, 2, [7.7, 3.3], 0.3);
  addLine('Fourier/G', gi, p.fg, RED, 2.8, [10, 4.4]);
  addLine('Fourier', gi, p.fou, PURPLE, 2.6, [2.6, 4.4]);
  addLine('Quintic', gi, p.qui, QUI, 2, [2, 3.4], 0.3);
});

const legendBase = {
  orient: 'vertical', selectedMode: false, itemWidth: 31, itemHeight: 14, itemGap: 9,
  padding: [7, 6, 7, 6], backgroundColor: 'rgba(255,255,255,0.8)', borderColor: '#cccccc',
  borderWidth: 1, borderRadius: 3, textStyle: { fontFamily: SERIF, fontSize: 14, color: '#000', padding: [0, 0, 0, 8] },
  itemStyle: { opacity: 0 }
};

const chart = echarts.init(document.getElementById('chart'));
chart.setOption({
  animation: false,
  backgroundColor: '#fff',
  title: {
    text: 'Vivaldi Beam Interpolation at (90,90)', left: 'center', top: 3,
    textStyle: { fontFamily: SERIF, fontSize: 26, fontWeight: 'normal', color: '#000' }
  },
  legend: [
    Object.assign({}, legendBase, { left: 516, top: 47,
      data: [{ name: 'Real', lineStyle: { width: 2 } }, { name: 'Imag', lineStyle: { width: 2 } }] }),
    Object.assign({}, legendBase, { left: 1076, top: 47,
      data: [
        { name: 'Linear', lineStyle: { width: 2 } },
        { name: 'Cubic', lineStyle: { width: 2 } },
        { name: 'Fourier/G', lineStyle: { width: 2.8 } },
        { name: 'Fourier', lineStyle: { width: 2.6 } },
        { name: 'Quintic', lineStyle: { width: 2 } }
      ] })
  ],
  grid: grid,
  xAxis: xAxis,
  yAxis: yAxis,
  series: series
});
</script>
</body>
</html>
